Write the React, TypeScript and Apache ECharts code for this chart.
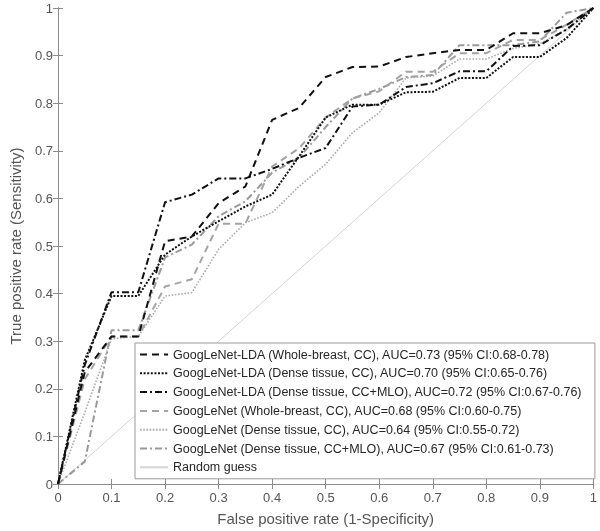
import React, { useEffect, useRef } from "react";
import * as echarts from "echarts";

const fpr = [0, 0.05, 0.1, 0.15, 0.2, 0.25, 0.3, 0.35, 0.4, 0.45, 0.5, 0.55, 0.6, 0.65, 0.7, 0.75, 0.8, 0.85, 0.9, 0.95, 1];

const ldaWholeCC = [0, 0.235, 0.31, 0.31, 0.51, 0.52, 0.59, 0.625, 0.765, 0.79, 0.855, 0.876, 0.877, 0.897, 0.905, 0.912, 0.912, 0.947, 0.947, 0.964, 1];
const ldaDenseCC = [0, 0.26, 0.395, 0.395, 0.482, 0.52, 0.552, 0.583, 0.608, 0.688, 0.77, 0.797, 0.797, 0.823, 0.824, 0.853, 0.853, 0.897, 0.897, 0.937, 1];
const ldaDenseCCMLO = [0, 0.25, 0.403, 0.403, 0.592, 0.608, 0.642, 0.642, 0.662, 0.685, 0.706, 0.793, 0.797, 0.834, 0.842, 0.867, 0.867, 0.92, 0.922, 0.955, 1];
const gWholeCC = [0, 0.22, 0.31, 0.31, 0.415, 0.43, 0.547, 0.547, 0.667, 0.705, 0.77, 0.81, 0.825, 0.866, 0.866, 0.905, 0.905, 0.933, 0.933, 0.965, 1];
const gDenseCC = [0, 0.15, 0.305, 0.31, 0.395, 0.402, 0.493, 0.549, 0.57, 0.625, 0.672, 0.738, 0.78, 0.853, 0.857, 0.893, 0.893, 0.915, 0.925, 0.955, 1];
const gDenseCCMLO = [0, 0.047, 0.323, 0.323, 0.476, 0.503, 0.5625, 0.594, 0.654, 0.685, 0.75, 0.81, 0.83, 0.855, 0.859, 0.922, 0.922, 0.922, 0.93, 0.99, 1];
const randomX = [0, 1];
const randomY = [0, 1];

const seriesNames = [
  "GoogLeNet-LDA (Whole-breast, CC), AUC=0.73 (95% CI:0.68-0.78)",
  "GoogLeNet-LDA (Dense tissue, CC), AUC=0.70 (95% CI:0.65-0.76)",
  "GoogLeNet-LDA (Dense tissue, CC+MLO), AUC=0.72 (95% CI:0.67-0.76)",
  "GoogLeNet (Whole-breast, CC), AUC=0.68 (95% CI:0.60-0.75)",
  "GoogLeNet (Dense tissue, CC), AUC=0.64 (95% CI:0.55-0.72)",
  "GoogLeNet (Dense tissue, CC+MLO), AUC=0.67 (95% CI:0.61-0.73)",
  "Random guess",
];

const xTitle = "False positive rate (1-Specificity)";
const yTitle = "True positive rate (Sensitivity)";

const FONT = "'Liberation Sans', Arial, sans-serif";
const AXIS_COLOR = "#8c8c8c";
const LABEL_COLOR = "#555555";

function pair(xs: number[], ys: number[]) {
  return xs.map((x, i) => [x, ys[i]]);
}

export default function App() {
  const ref = useRef<HTMLDivElement>(null);
  useEffect(() => {
    if (!ref.current) return;
    const chart = echarts.init(ref.current, undefined, { renderer: "svg" });
    const styles = [
      { color: "#111111", width: 2, type: [7, 5] },
      { color: "#111111", width: 2, type: [2, 1.6] },
      { color: "#111111", width: 2, type: [7, 3, 2, 3] },
      { color: "#a3a3a3", width: 2, type: [7, 5] },
      { color: "#ababab", width: 1.6, type: [1.6, 1.6] },
      { color: "#9a9a9a", width: 2, type: [7, 3, 2, 3] },
      { color: "#d4d4d4", width: 1, type: "solid" },
    ];
    const datas = [ldaWholeCC, ldaDenseCC, ldaDenseCCMLO, gWholeCC, gDenseCC, gDenseCCMLO];
    const series: any[] = datas.map((d, i) => ({
      name: seriesNames[i],
      type: "line",
      data: pair(fpr, d),
      symbol: "none",
      color: styles[i].color,
      lineStyle: styles[i],
      z: 10 - i,
    }));
    series.push({
      name: seriesNames[6],
      type: "line",
      data: pair(randomX, randomY),
      symbol: "none",
      color: styles[6].color,
      lineStyle: styles[6],
      z: 1,
    });
    const baseX = {
      type: "value",
      min: 0,
      max: 1,
      interval: 0.1,
      splitLine: { show: false },
      axisLine: { show: true, lineStyle: { color: AXIS_COLOR, width: 1 } },
      axisTick: { show: true, inside: true, length: 5, lineStyle: { color: AXIS_COLOR } },
    };
    const option: any = {
      animation: false,
      textStyle: { fontFamily: FONT },
      grid: { left: 48, right: 3, top: 8, bottom: 46, containLabel: false },
      xAxis: [
        {
          ...baseX,
          position: "bottom",
          axisLabel: { color: LABEL_COLOR, fontSize: 13, margin: 7, fontFamily: FONT },
          name: xTitle,
          nameLocation: "middle",
          nameGap: 27,
          nameTextStyle: { color: LABEL_COLOR, fontSize: 15, fontFamily: FONT },
        },
        { ...baseX, position: "top", axisLabel: { show: false } },
      ],
      yAxis: [
        {
          ...baseX,
          position: "left",
          axisLabel: { color: LABEL_COLOR, fontSize: 13, margin: 5, fontFamily: FONT },
          name: yTitle,
          nameLocation: "middle",
          nameGap: 35,
          nameTextStyle: { color: LABEL_COLOR, fontSize: 15, fontFamily: FONT },
        },
        { ...baseX, position: "right", axisLabel: { show: false } },
      ],
      legend: {
        orient: "vertical",
        left: 135,
        top: 343,
        itemWidth: 28,
        itemHeight: 14,
        itemGap: 5.8,
        padding: [5, 12, 5, 4],
        backgroundColor: "#ffffff",
        borderColor: "#9a9a9a",
        borderWidth: 1,
        borderRadius: 0,
        itemStyle: { opacity: 0 },
        textStyle: { color: "#262626", fontSize: 12.5, fontFamily: FONT },
        selectedMode: false,
        data: seriesNames,
      },
      series,
    };
    chart.setOption(option);
    return () => chart.dispose();
  }, []);
  return (
    <div
      ref={ref}
      style={{ position: "fixed", left: 0, top: 0, width: 600, height: 531 }}
    />
  );
}
